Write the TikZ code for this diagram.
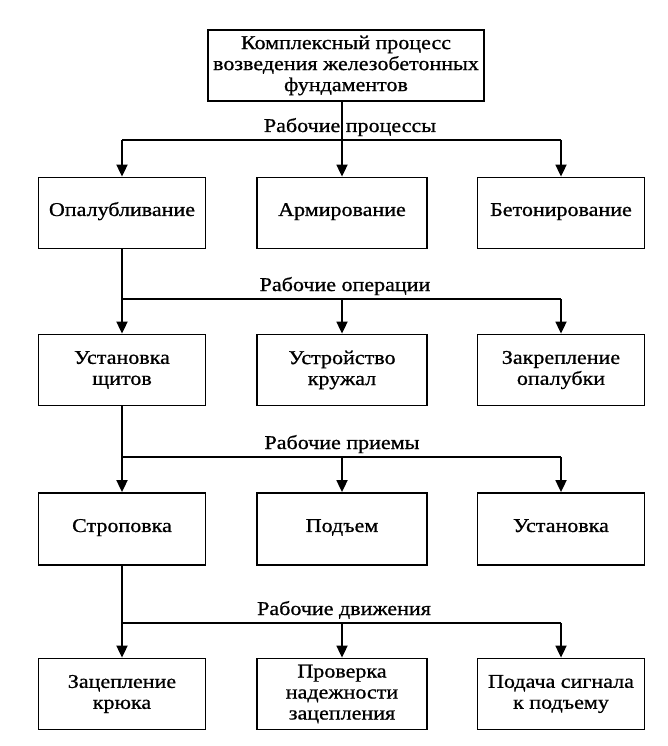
\documentclass[tikz,border=0pt]{standalone}
\usepackage{fontspec}
\setmainfont{Liberation Serif}[FakeStretch=1.13, FakeBold=0.8]
\usetikzlibrary{arrows.meta}

\begin{document}
\begin{tikzpicture}[x=10pt, y=-10pt,
		blok/.style={draw, line width=1.8pt, minimum width=167pt, minimum height=71pt, align=center, inner sep=2pt, font=\fontsize{19.5}{21}\selectfont},
		odna/.style={text height=1.5ex, text depth=0.2ex},
		shina/.style={line width=1.8pt},
		strelka/.style={line width=1.8pt, -{Triangle[length=12pt,width=11pt]}},
		podpis/.style={anchor=base, inner sep=0pt, font=\fontsize{19.5}{21}\selectfont}]
			%%%%% START %%%%%
			
			\useasboundingbox (0, 0) rectangle (66.8, 74.6);
			
			\node[blok, minimum width=276pt] (kompleks) at (34.6, 6.55) {Комплексный процесс\\возведения железобетонных\\фундаментов};
			
			\node[blok, odna] (opalub) at (12.2, 21.3) {Опалубливание};
			\node[blok, odna, minimum width=170pt] (armir) at (34.2, 21.3) {Армирование};
			\node[blok, odna] (beton) at (56.1, 21.3) {Бетонирование};
			
			\node[blok] (shity) at (12.2, 37.0) {Установка\\щитов};
			\node[blok, minimum width=170pt] (kruzh) at (34.2, 37.0) {Устройство\\кружал};
			\node[blok] (zakrep) at (56.1, 37.0) {Закрепление\\опалубки};
			
			\node[blok, odna, minimum height=72pt] (strop) at (12.2, 52.9) {Строповка};
			\node[blok, odna, minimum width=170pt, minimum height=72pt] (podjem) at (34.2, 52.9) {Подъем};
			\node[blok, odna, minimum height=72pt] (ustan) at (56.1, 52.9) {Установка};
			
			\node[blok] (kryuk) at (12.2, 69.4) {Зацепление\\крюка};
			\node[blok, minimum width=170pt] (proverka) at (34.2, 69.4) {Проверка\\надежности\\зацепления};
			\node[blok] (signal) at (56.1, 69.4) {Подача сигнала\\к подъему};
			
			\coordinate (shina1) at (34.2, 14.0);
			\coordinate (shina2) at (34.2, 29.9);
			\coordinate (shina3) at (34.2, 45.7);
			\coordinate (shina4) at (34.2, 62.3);
			
			\node[podpis] (proc) at (35.0, 13.2) {Рабочие процессы};
			\node[podpis] (oper) at (34.5, 29.1) {Рабочие операции};
			\node[podpis] (priem) at (34.2, 44.9) {Рабочие приемы};
			\node[podpis] (dvizh) at (34.4, 61.5) {Рабочие движения};
			
			% rabochie processy
			\draw[strelka] (kompleks.south -| armir.north) -- (armir.north);
			\draw[shina] (opalub.north |- shina1) -- (beton.north |- shina1);
			\draw[strelka] (opalub.north |- shina1) -- (opalub.north);
			\draw[strelka] (beton.north |- shina1) -- (beton.north);
			
			% rabochie operacii
			\draw[strelka] (opalub.south) -- (shity.north);
			\draw[shina] (opalub.south |- shina2) -- (zakrep.north |- shina2);
			\draw[strelka] (kruzh.north |- shina2) -- (kruzh.north);
			\draw[strelka] (zakrep.north |- shina2) -- (zakrep.north);
			
			% rabochie priemy
			\draw[strelka] (shity.south) -- (strop.north);
			\draw[shina] (shity.south |- shina3) -- (ustan.north |- shina3);
			\draw[strelka] (podjem.north |- shina3) -- (podjem.north);
			\draw[strelka] (ustan.north |- shina3) -- (ustan.north);
			
			% rabochie dvizheniya
			\draw[strelka] (strop.south) -- (kryuk.north);
			\draw[shina] (strop.south |- shina4) -- (signal.north |- shina4);
			\draw[strelka] (proverka.north |- shina4) -- (proverka.north);
			\draw[strelka] (signal.north |- shina4) -- (signal.north);
			
			%%%%% END %%%%%
\end{tikzpicture}
\end{document}
